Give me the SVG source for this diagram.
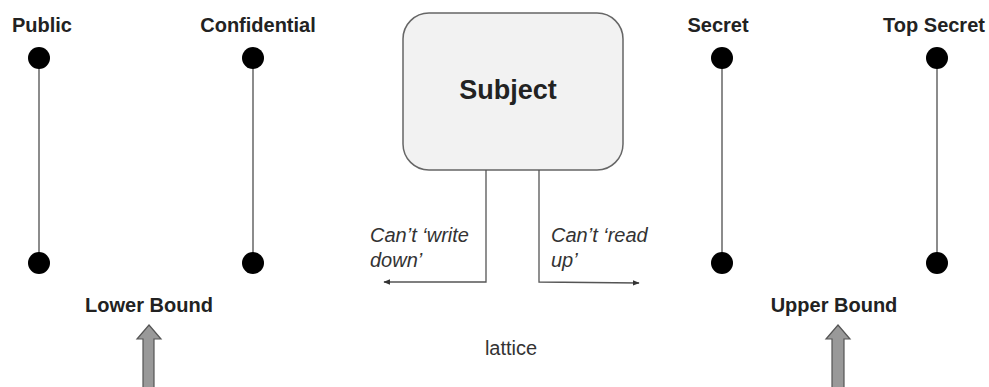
<svg xmlns="http://www.w3.org/2000/svg" width="989" height="387" viewBox="0 0 989 387">
<style>
.lbl{font-family:"Liberation Sans",Arial,sans-serif;font-weight:bold;font-size:20px;fill:#222;text-anchor:middle}
.it{font-family:"Liberation Sans",Arial,sans-serif;font-style:italic;font-size:20px;fill:#333}
.dot{fill:#000}
.ln{stroke:#666;stroke-width:1.5;fill:none}
.conn{stroke:#555;stroke-width:1.3;fill:none}
.big{fill:#999;stroke:#555;stroke-width:1.2}
</style>
<defs>
<marker id="ah" viewBox="0 0 10 10" refX="9" refY="5" markerWidth="7" markerHeight="7" orient="auto" markerUnits="userSpaceOnUse">
<path d="M0,1 L10,5 L0,9 z" fill="#333"/>
</marker>
</defs>
<rect width="989" height="387" fill="#fff"/>
<g id="public">
<text class="lbl" x="42" y="32">Public</text>
<line class="ln" x1="39" y1="58" x2="39" y2="263"/>
<circle class="dot" cx="39" cy="58" r="11"/>
<circle class="dot" cx="39" cy="263" r="11"/>
</g>
<g id="confidential">
<text class="lbl" x="258" y="32">Confidential</text>
<line class="ln" x1="253" y1="58" x2="253" y2="263"/>
<circle class="dot" cx="253" cy="58" r="11"/>
<circle class="dot" cx="253" cy="263" r="11"/>
</g>
<g id="secret">
<text class="lbl" x="718" y="32">Secret</text>
<line class="ln" x1="722" y1="58" x2="722" y2="263"/>
<circle class="dot" cx="722" cy="58" r="11"/>
<circle class="dot" cx="722" cy="263" r="11"/>
</g>
<g id="topsecret">
<text class="lbl" x="934" y="32">Top Secret</text>
<line class="ln" x1="937" y1="58" x2="937" y2="263"/>
<circle class="dot" cx="937" cy="58" r="11"/>
<circle class="dot" cx="937" cy="263" r="11"/>
</g>
<g id="subject">
<rect x="403" y="13" width="220" height="157" rx="26" fill="#f2f2f2" stroke="#666" stroke-width="1.5"/>
<text class="lbl" x="508" y="99" style="font-size:27px">Subject</text>
</g>
<g id="connectors">
<polyline class="conn" points="486,170 486,282 384,282" marker-end="url(#ah)"/>
<polyline class="conn" points="539,170 539,282 639,283" marker-end="url(#ah)"/>
</g>
<g id="labels">
<text class="it" x="370" y="242">Can’t ‘write</text>
<text class="it" x="370" y="267">down’</text>
<text class="it" x="551" y="242">Can’t ‘read</text>
<text class="it" x="551" y="267">up’</text>
<text class="lbl" x="149" y="312">Lower Bound</text>
<text class="lbl" x="834" y="312">Upper Bound</text>
<text x="511" y="355" style="font-family:'Liberation Sans',Arial,sans-serif;font-size:20px;fill:#333;text-anchor:middle">lattice</text>
</g>
<g id="lower-arrow">
<path class="big" d="M149,325 L161,339 L154,339 L154,390 L143,390 L143,339 L137,339 Z"/>
</g>
<g id="upper-arrow">
<path class="big" d="M838,325 L850,339 L844,339 L844,390 L832,390 L832,339 L826,339 Z"/>
</g>
</svg>
